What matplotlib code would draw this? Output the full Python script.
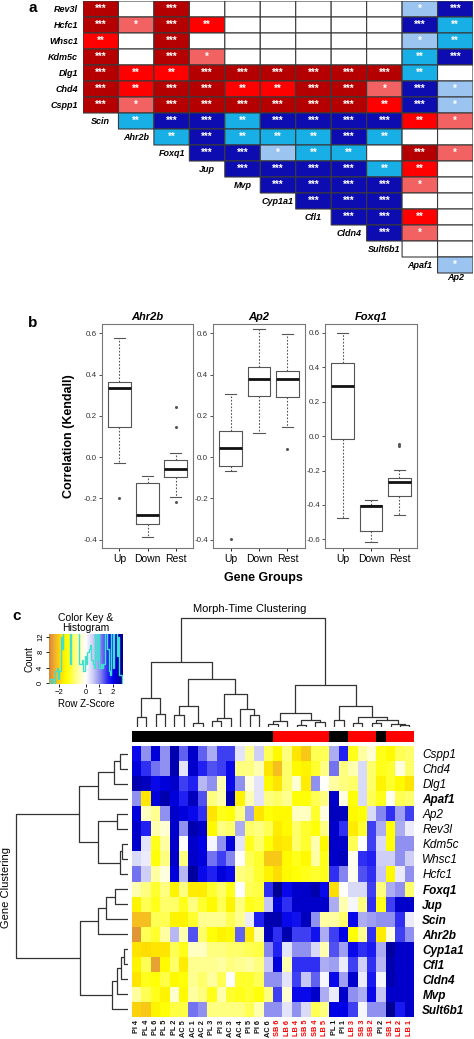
import numpy as np
import matplotlib
matplotlib.use('Agg')
import matplotlib.pyplot as plt
from matplotlib.colors import ListedColormap, BoundaryNorm, LinearSegmentedColormap

plt.rcParams['font.family'] = ['Liberation Sans', 'DejaVu Sans']

W, H = 474, 1039
fig = plt.figure(figsize=(W / 100, H / 100), dpi=100)


def px_axes(x0, y0, x1, y1):
    return fig.add_axes([x0 / W, 1 - y1 / H, (x1 - x0) / W, (y1 - y0) / H])


# ---------------- panel a : pairwise correlation significance ----------------
a_cols = ['Scin', 'Ahr2b', 'Foxq1', 'Jup', 'Mvp', 'Cyp1a1', 'Cfl1', 'Cldn4',
          'Sult6b1', 'Apaf1', 'Ap2']
a_rows = ['Rev3l', 'Hcfc1', 'Whsc1', 'Kdm5c', 'Dlg1', 'Chd4', 'Cspp1',
          'Scin', 'Ahr2b', 'Foxq1', 'Jup', 'Mvp', 'Cyp1a1', 'Cfl1', 'Cldn4',
          'Sult6b1', 'Apaf1']
# sign * number of stars ; rows below Cspp1 only have their upper-triangle cells
a_sig = [
    [3, 0, 3, 0, 0, 0, 0, 0, 0, -1, -3],
    [3, 1, 3, 2, 0, 0, 0, 0, 0, -3, -2],
    [2, 0, 3, 0, 0, 0, 0, 0, 0, -1, -2],
    [3, 0, 3, 1, 0, 0, 0, 0, 0, -2, -3],
    [3, 2, 2, 3, 3, 3, 3, 3, 3, -2, 0],
    [3, 2, 3, 3, 2, 2, 3, 3, 1, -3, -1],
    [3, 1, 3, 3, 3, 3, 3, 3, 2, -3, -1],
    [-2, -3, -3, -2, -3, -3, -3, -3, 2, 1],
    [-2, -3, -2, -2, -2, -3, -2, 0, 0],
    [-3, -3, -1, -2, -2, 0, 3, 1],
    [-3, -3, -3, -3, -2, 2, 0],
    [-3, -3, -3, -3, 1, 0],
    [-3, -3, -3, 0, 0],
    [-3, -3, 2, 0],
    [-3, 1, 0],
    [0, 0],
    [-1],
]
a_colors = ['#0c0cb0', '#18aee6', '#9cc4f0', '#ffffff', '#f26262', '#ff0000', '#b40000']

nr, nc = len(a_rows), len(a_cols)
mat = np.full((nr, nc), np.nan)
for i, vals in enumerate(a_sig):
    mat[i, nc - len(vals):] = vals

ax_a = px_axes(83, 1, 473, 289)
ax_a.pcolor(np.arange(nc + 1), np.arange(nr + 1), np.ma.masked_invalid(mat),
            cmap=ListedColormap(a_colors),
            norm=BoundaryNorm(np.arange(-3.5, 4, 1), 7),
            edgecolors='#3a3a3a', linewidth=0.8)
ax_a.set_xlim(0, nc)
ax_a.set_ylim(nr + 1, 0)
ax_a.axis('off')
for i in range(nr):
    for j in range(nc):
        v = mat[i, j]
        if not np.isnan(v) and v != 0:
            ax_a.text(j + 0.5, i + 0.5, '*' * int(abs(v)), color='white',
                      ha='center', va='center', fontsize=7, fontweight='bold')
for i, name in enumerate(a_rows):
    first = nc - len(a_sig[i])
    if first == 0:
        ax_a.text(-0.14, i + 0.5, name, ha='right', va='center', fontsize=6.5,
                  fontweight='bold', style='italic')
    else:
        ax_a.text(first - 0.5, i + 0.5, name, ha='center', va='center',
                  fontsize=6.5, fontweight='bold', style='italic')
ax_a.text(nc - 0.5, nr + 0.3, a_cols[-1], ha='center', va='center', fontsize=6.5,
          fontweight='bold', style='italic')
fig.text(33 / W, 1 - 8 / H, 'a', fontsize=11, fontweight='bold', ha='center', va='center')

# ---------------- panel b : boxplots ----------------
b_genes = ['Ahr2b', 'Ap2', 'Foxq1']
b_groups = ['Up', 'Down', 'Rest']
b_whislo = [[-0.027, -0.385, -0.195], [-0.066, 0.116, 0.147], [-0.478, -0.615, -0.458]]
b_q1 = [[0.144, -0.324, -0.094], [-0.045, 0.295, 0.290], [-0.016, -0.551, -0.348]]
b_med = [[0.337, -0.279, -0.058], [0.045, 0.377, 0.381], [0.294, -0.404, -0.264]]
b_q3 = [[0.366, -0.126, -0.016], [0.129, 0.439, 0.419], [0.424, -0.402, -0.245]]
b_whishi = [[0.579, -0.090, 0.021], [0.308, 0.623, 0.595], [0.600, -0.373, -0.198]]
b_fliers = [[[-0.200], [], [0.244, 0.144, -0.219]],
            [[-0.394], [], [0.039]],
            [[], [], [-0.048, -0.060]]]
b_ylims = [(-0.44, 0.645), (-0.44, 0.645), (-0.65, 0.652)]
b_yticks = [np.arange(-0.4, 0.61, 0.2), np.arange(-0.4, 0.61, 0.2), np.arange(-0.6, 0.61, 0.2)]

box_x = [(102, 193), (213, 305), (325, 417)]
gcol = '#555555'
for k, gene in enumerate(b_genes):
    ax = px_axes(box_x[k][0], 324, box_x[k][1], 548)
    stats = []
    for g in range(3):
        stats.append(dict(med=b_med[k][g], q1=b_q1[k][g], q3=b_q3[k][g],
                          whislo=b_whislo[k][g], whishi=b_whishi[k][g],
                          fliers=b_fliers[k][g], label=b_groups[g]))
    ax.bxp(stats, positions=[1, 2, 3], widths=0.8, capwidths=0.4,
           boxprops=dict(color=gcol, lw=0.8),
           medianprops=dict(color='#111111', lw=2),
           whiskerprops=dict(color=gcol, lw=0.8, linestyle=(0, (1.5, 1.5))),
           capprops=dict(color=gcol, lw=0.8),
           flierprops=dict(marker='o', markersize=1.2, markerfacecolor=gcol,
                           markeredgecolor=gcol))
    ax.set_xlim(0.38, 3.62)
    ax.set_ylim(*b_ylims[k])
    ax.set_yticks(b_yticks[k])
    ax.set_yticklabels(['%.1f' % t if abs(t) > 1e-9 else '0.0' for t in b_yticks[k]])
    ax.tick_params(axis='y', labelsize=5.8, length=2, pad=1.5, colors='#333333',
                   width=0.6)
    ax.tick_params(axis='x', labelsize=7.5, length=2, pad=2, width=0.6)
    for s in ax.spines.values():
        s.set_color('#777777')
        s.set_linewidth(0.8)
    ax.set_title(gene, fontsize=8, fontweight='bold', style='italic', pad=3)
    if k == 0:
        ax.set_ylabel('Correlation (Kendall)', fontsize=9, fontweight='bold', labelpad=6)
fig.text(263 / W, 1 - 578 / H, 'Gene Groups', fontsize=9, fontweight='bold',
         ha='center', va='center')
fig.text(33 / W, 1 - 323 / H, 'b', fontsize=11, fontweight='bold', ha='center', va='center')

# ---------------- panel c : heatmap ----------------
c_genes = ['Cspp1', 'Chd4', 'Dlg1', 'Apaf1', 'Ap2', 'Rev3l', 'Kdm5c', 'Whsc1', 'Hcfc1',
           'Foxq1', 'Jup', 'Scin', 'Ahr2b', 'Cyp1a1', 'Cfl1', 'Cldn4', 'Mvp', 'Sult6b1']
c_bold = ['Apaf1', 'Foxq1', 'Jup', 'Scin', 'Ahr2b', 'Cyp1a1', 'Cfl1', 'Cldn4', 'Mvp', 'Sult6b1']
c_samples = ['PI 4', 'PL 4', 'PL 6', 'PL 5', 'PL 2', 'AC 5', 'AC 1', 'AC 2', 'PL 3', 'PI 3',
             'AC 3', 'AC 4', 'PI 5', 'PI 6', 'AC 6', 'SB 6', 'LB 6', 'LB 4', 'SB 5', 'SB 4',
             'LB 5', 'PL 1', 'PI 1', 'LB 3', 'SB 3', 'SB 2', 'PI 2', 'SB 1', 'LB 2', 'LB 1']
c_z = np.array([
    [2.0, 1.0, 2.2, 1.0, 2.5, 1.3, 2.3, 1.3, 0.8, 1.5, 1.5, 0.3, -0.7, 0.5, -1.0, -1.5, -0.8, -1.8, -2.1, -1.0, -1.0, 0.8, 1.7, -1.3, -0.6, -0.3, -1.3, -1.5, -1.0, -0.9],
    [2.2, 1.6, 1.2, 1.0, 2.5, 0.3, 2.3, 1.7, 1.4, 1.5, 2.0, -0.8, -0.8, -0.5, -1.8, -2.2, -0.9, -1.5, -1.6, -1.2, -0.8, 1.2, -0.8, -0.5, 0.4, -0.9, -1.3, -1.2, -0.2, -0.9],
    [2.5, 2.4, 2.0, 2.2, 2.3, 1.5, 1.7, 0.7, 1.0, -0.5, 2.0, 1.0, -0.2, 0.3, -1.5, -1.8, -0.9, -0.3, -1.7, 1.0, 0.0, -0.6, -0.8, -0.9, 0.4, -0.9, -1.6, -1.2, -1.5, -1.8],
    [1.0, -1.8, 2.2, 2.5, 2.2, 1.7, 2.4, 1.4, -0.8, -0.5, 2.5, -1.6, -0.5, 0.3, -0.8, -0.9, -0.7, -1.4, -1.4, -1.0, -0.8, 2.3, -0.2, -1.4, 0.4, -1.0, -1.3, -0.1, -1.0, -0.9],
    [2.2, -0.4, -0.7, 1.0, 2.3, 2.2, 2.0, 1.6, -1.8, -1.3, -1.4, -0.8, 0.9, -1.8, -1.4, -1.5, -1.5, -0.4, -0.4, -1.2, -0.2, 2.4, 2.4, -1.5, -1.4, 0.4, 1.1, 1.6, 0.9, 1.5],
    [2.3, 1.7, -0.5, -0.3, 2.3, 1.0, 2.5, 2.3, -1.5, -0.8, -0.9, 0.8, -0.9, -0.8, -1.0, -1.7, -1.5, -0.9, -1.2, -1.4, -0.8, 2.3, 1.6, -1.7, -1.2, 1.5, 0.8, -1.4, 0.8, 0.2],
    [2.3, 0.3, -1.3, -0.6, 2.3, 0.0, 2.3, 2.1, 0.1, 1.0, 2.2, 0.3, -1.3, -0.9, -1.4, -1.8, -1.7, -0.9, -1.2, -0.5, -1.5, 2.3, 2.3, -1.0, 0.0, 1.5, 0.4, -1.4, 1.0, 1.0],
    [0.4, 0.2, -1.4, -0.8, 2.3, -0.8, 2.3, 2.2, 1.2, 1.5, 1.1, 0.0, -1.0, -1.2, -2.1, -2.1, -1.5, -1.3, -1.5, -0.6, -1.3, 2.3, 2.4, -0.1, 1.6, 1.7, 0.5, 0.5, 1.0, 0.5],
    [1.2, 0.5, -0.6, -0.2, 2.2, 0.7, 2.6, 2.0, 1.7, 2.2, 2.0, -0.8, -0.9, -1.2, -1.6, -1.9, -1.5, -1.4, -1.3, -1.2, -1.3, 1.6, 1.1, -0.1, 1.4, 1.6, 0.6, -1.5, 0.2, 1.0],
    [-0.5, -0.8, -1.2, -0.8, -1.6, -0.8, -1.7, -1.7, -1.2, -0.9, -1.3, 0.0, -1.0, -1.1, 1.6, 2.7, 2.0, 2.3, 2.3, 2.5, 2.0, -1.9, 0.0, 0.4, 0.4, 1.5, -0.8, 0.8, 1.0, -0.9],
    [-1.6, -1.0, -1.3, -0.9, -0.9, -1.3, -0.8, -1.2, -1.5, -1.0, -1.6, -0.8, -1.3, -1.2, 0.6, 2.2, 1.6, 2.3, 2.3, 2.3, 2.3, 0.8, -0.5, 0.1, -0.8, 1.6, -1.3, 1.5, 2.3, 2.3],
    [-2.2, -2.2, -1.0, -1.0, -1.6, -1.6, -1.2, -0.7, -0.7, -0.7, -1.0, -0.7, 0.2, 1.7, 2.5, 2.5, 2.0, 1.9, 2.4, 1.0, -0.6, -0.6, -0.9, 2.0, 0.8, 0.9, 1.0, 1.0, 1.6, 0.2],
    [-2.6, -1.0, -1.2, -0.6, 0.7, -0.5, 1.4, -0.9, -1.4, -1.6, -1.5, 1.3, -1.7, -0.5, 2.4, 1.6, 2.5, 1.5, 1.5, 1.9, 0.8, 1.5, 2.1, -1.4, -0.7, 1.6, -1.7, -0.2, 1.5, 1.0],
    [-1.8, -1.9, -1.8, -1.8, -1.0, -1.3, -0.4, -0.4, -0.8, -0.8, -0.9, -0.9, -1.0, -1.1, 1.1, 1.7, 0.3, 1.0, 1.0, 0.4, -0.5, 1.4, 0.9, 2.0, 1.6, 1.8, 0.8, 2.6, 2.3, 2.3],
    [-1.6, -1.0, -2.5, -1.5, -0.9, -1.7, -0.7, -0.7, -0.7, -0.6, -0.8, -0.7, -0.6, -0.8, 0.6, 2.2, -0.5, 1.6, 1.6, 1.6, 0.8, 0.9, 0.2, 1.5, 0.5, 1.6, 0.7, 2.5, 2.3, 2.3],
    [-1.8, -1.3, -1.4, -1.1, -1.5, -1.4, -0.7, -0.9, -0.6, -1.0, 0.0, -1.2, -1.2, -1.0, 1.0, 1.0, 0.3, 1.5, 0.6, 1.3, 0.1, 2.0, 0.9, 2.3, 0.2, 1.8, 0.1, 2.5, 2.3, 2.3],
    [-0.6, -1.0, -1.3, -1.6, -0.3, -1.5, -0.6, -0.8, -1.3, -0.5, -1.2, -1.3, -1.2, -1.4, -0.8, 1.5, -0.3, 2.0, 2.0, 2.3, 0.8, 0.2, 2.3, 1.0, 0.8, 2.0, 0.6, 2.3, 2.3, 2.3],
    [-2.0, -2.1, -1.6, -1.4, -1.1, -1.1, 1.2, 1.0, -0.8, -0.8, -0.8, -0.8, -1.0, -0.5, 1.0, 1.0, 0.3, 1.0, 0.4, -1.0, -0.8, 2.1, 2.1, 1.5, 0.1, 1.0, 1.0, 2.7, 1.8, 2.3],
])
# column dendrogram merges (left, right, height); ids >= 30 are earlier merges
col_merges = [(0, 1, 29), (2, 3, 40), (30, 31, 88), (4, 5, 35), (6, 7, 13), (33, 34, 63),
              (8, 9, 17), (36, 10, 27), (12, 13, 35), (11, 38, 54), (37, 39, 99),
              (35, 40, 143), (32, 41, 194), (14, 15, 10), (43, 16, 17), (17, 18, 6),
              (19, 20, 15), (45, 46, 20), (44, 47, 41), (21, 22, 21), (23, 24, 12),
              (25, 26, 12), (28, 29, 5), (27, 52, 9), (51, 53, 21), (50, 54, 31),
              (49, 55, 63), (48, 56, 126), (42, 57, 328)]
row_merges = [(0, 1, 25), (18, 2, 43), (19, 3, 92), (4, 5, 35), (6, 7, 20), (22, 8, 25),
              (21, 23, 90), (20, 24, 147), (9, 10, 40), (26, 11, 67), (27, 12, 92),
              (13, 14, 13), (29, 15, 23), (30, 16, 33), (31, 17, 50), (28, 32, 145),
              (25, 33, 338)]

zmap = LinearSegmentedColormap.from_list('zkey', [
    (0.00, '#d8863a'), (0.07, '#f0ae30'), (0.16, '#ffe000'), (0.24, '#ffff00'),
    (0.38, '#ffff98'), (0.50, '#ffffff'), (0.60, '#cacaf6'), (0.70, '#8484f0'),
    (0.80, '#2424f4'), (0.88, '#0000e8'), (1.00, '#000088')])
zlim = 2.77


def draw_dendro(ax, merges, n, side):
    pos = {i: i + 0.5 for i in range(n)}
    hgt = {i: 0.0 for i in range(n)}
    for k, (a, b, h) in enumerate(merges):
        xs = [pos[a], pos[a], pos[b], pos[b]]
        ys = [hgt[a], h, h, hgt[b]]
        if side == 'top':
            ax.plot(xs, ys, color='#333333', lw=0.9, solid_capstyle='butt')
        else:
            ax.plot(ys, xs, color='#333333', lw=0.9, solid_capstyle='butt')
        pos[n + k] = (pos[a] + pos[b]) / 2
        hgt[n + k] = h


nrow, ncol = c_z.shape
ax_h = px_axes(132, 746, 414, 1017)
ax_h.pcolormesh(np.arange(ncol + 1), np.arange(nrow + 1), c_z, cmap=zmap,
                vmin=-zlim, vmax=zlim)
ax_h.set_xlim(0, ncol)
ax_h.set_ylim(nrow, 0)
for s in ax_h.spines.values():
    s.set_visible(False)
ax_h.yaxis.tick_right()
ax_h.set_yticks(np.arange(nrow) + 0.5)
ax_h.set_yticklabels(c_genes, fontsize=8.5, style='italic')
for lab in ax_h.get_yticklabels():
    if lab.get_text() in c_bold:
        lab.set_fontweight('bold')
ax_h.set_xticks(np.arange(ncol) + 0.5)
ax_h.set_xticklabels(c_samples, rotation=90, fontsize=5.3, fontweight='bold')
is_red = [s[:2] in ('SB', 'LB') for s in c_samples]
for lab, red in zip(ax_h.get_xticklabels(), is_red):
    lab.set_color('#ff0000' if red else '#111111')
ax_h.tick_params(length=0)
ax_h.tick_params(axis='y', pad=6)
ax_h.tick_params(axis='x', pad=2)

ax_bar = px_axes(132, 731, 414, 742)
ax_bar.pcolormesh(np.arange(ncol + 1), [0, 1], np.array([is_red], dtype=float),
                  cmap=ListedColormap(['black', '#ff0000']), vmin=0, vmax=1)
ax_bar.axis('off')

ax_cd = px_axes(132, 617, 414, 727)
draw_dendro(ax_cd, col_merges, ncol, 'top')
ax_cd.set_xlim(0, ncol)
ax_cd.set_ylim(0, 330)
ax_cd.axis('off')

ax_rd = px_axes(15, 746, 128.5, 1017)
draw_dendro(ax_rd, row_merges, nrow, 'left')
ax_rd.set_ylim(nrow, 0)
ax_rd.set_xlim(340, 0)
ax_rd.axis('off')

fig.text(250 / W, 1 - 609 / H, 'Morph-Time Clustering', fontsize=8, ha='center', va='center')
fig.text(6 / W, 1 - 887 / H, 'Gene Clustering', fontsize=8, rotation=90,
         ha='center', va='center')
fig.text(17 / W, 1 - 616 / H, 'c', fontsize=11, fontweight='bold', ha='center', va='center')

# colour key with histogram of z-scores
ax_k = px_axes(49, 634, 123, 684)
ax_k.imshow(np.linspace(-zlim, zlim, 200)[None, :], cmap=zmap, aspect='auto',
            extent=(-zlim, zlim, -0.3, 12.8), vmin=-zlim, vmax=zlim)
ax_k.hist(c_z.ravel(), bins=np.arange(-2.8, 2.81, 0.1), histtype='step',
          color='#40e0d0', lw=1)
ax_k.set_xlim(-zlim, zlim)
ax_k.set_ylim(-0.3, 12.8)
ax_k.set_xticks([-2, 0, 1, 2])
ax_k.set_yticks([0, 4, 8, 12])
ax_k.set_yticklabels(['0', '4', '8', '12'], rotation=90, va='center')
ax_k.tick_params(labelsize=5.5, length=2, pad=1.5, width=0.6)
ax_k.set_xlabel('Row Z-Score', fontsize=7, labelpad=2)
ax_k.set_ylabel('Count', fontsize=7, labelpad=2)
ax_k.set_title('Color Key &\nHistogram', fontsize=7.5, pad=2, linespacing=1.0)
for s in ax_k.spines.values():
    s.set_visible(False)

fig.savefig('out.png', dpi=100)
